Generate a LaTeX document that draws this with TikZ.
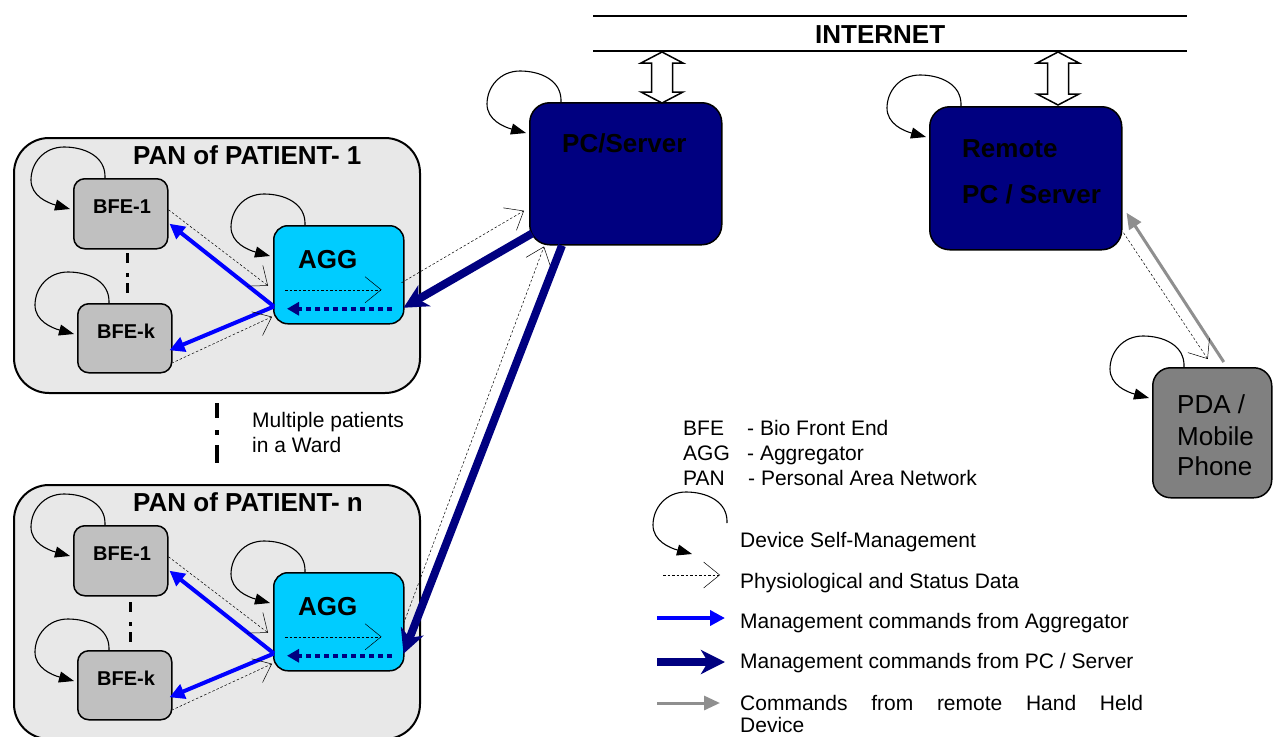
\documentclass[tikz,border=0pt]{standalone}
\usepackage{fontspec}
\setmainfont{Liberation Sans}
\usetikzlibrary{arrows.meta}

\definecolor{pangray}{HTML}{E8E8E8}
\definecolor{bfegray}{HTML}{C0C0C0}
\definecolor{aggcyan}{HTML}{00CCFF}
\definecolor{srvnavy}{HTML}{000080}
\definecolor{pdagray}{HTML}{808080}
\definecolor{cmdblue}{HTML}{0000FF}
\definecolor{cmdgray}{HTML}{8F8F8F}

% self-management loop, anchored at the north-west corner of a device
\newcommand\devloop[1]{%
  \draw[selfloop] ([shift={(32,0)}]#1)
    .. controls +(1,-22) and +(20,0) .. ([shift={(-9,-31)}]#1)
    .. controls +(-20,0) and +(0,-17) .. ([shift={(-42,2)}]#1)
    .. controls +(0,16) and +(-22,-6) .. ([shift={(-3,31)}]#1);}

\begin{document}
\begin{tikzpicture}[x=1pt,y=-1pt,
  panbox/.style={draw, line width=2pt, fill=pangray, rounded corners=35pt,
    anchor=north west, inner sep=0pt, minimum width=406pt},
  bfebox/.style={draw, line width=1.5pt, fill=bfegray, rounded corners=11pt,
    anchor=north west, inner sep=0pt, minimum width=94pt, minimum height=70pt},
  aggbox/.style={draw, line width=1.5pt, fill=aggcyan, rounded corners=14pt,
    anchor=north west, inner sep=0pt, minimum width=130pt, minimum height=98pt},
  srvbox/.style={draw, line width=1.5pt, fill=srvnavy, rounded corners=20pt,
    anchor=north west, inner sep=0pt, minimum width=192pt, minimum height=142pt},
  pdabox/.style={draw, line width=1.5pt, fill=pdagray, rounded corners=18pt,
    anchor=north west, inner sep=0pt, minimum width=119pt, minimum height=130pt},
  selfloop/.style={draw=black, line width=1.1pt, -{Triangle[length=15pt,width=11pt]}},
  dataflow/.style={draw=black, line width=0.5pt, dash pattern=on 2.5pt off 2pt,
    -{Straight Barb[length=16pt,width=26pt,line width=0.5pt]}},
  aggcmd/.style={draw=cmdblue, line width=4pt, -{Triangle[length=15pt,width=15pt]}},
  srvcmd/.style={draw=srvnavy, line width=8pt, -{Stealth[length=24pt,width=24pt,inset=7pt]}},
  srvcmddot/.style={draw=srvnavy, line width=4pt, dash pattern=on 5pt off 4pt,
    -{Triangle[length=12pt,width=13pt]}},
  pdacmd/.style={draw=cmdgray, line width=3pt, -{Triangle[length=16pt,width=14pt]}},
  sepmark/.style={draw=black, line width=3pt,
    dash pattern=on 10pt off 10pt on 4pt off 6pt on 10pt off 100pt},
  bidirarrow/.style={draw=black, line width=1.5pt, fill=white, line join=miter},
  txtB/.style={font=\fontsize{26}{31}\selectfont\bfseries, anchor=base west, inner sep=0pt},
  txtb/.style={font=\fontsize{20}{24}\selectfont\bfseries, anchor=base west, inner sep=0pt},
  txtR/.style={font=\fontsize{21}{25}\selectfont, anchor=base west, inner sep=0pt},
  txtP/.style={font=\fontsize{26}{31}\selectfont, anchor=base west, inner sep=0pt},
]
\useasboundingbox (0,0) rectangle (1273,736);

% ---------- patient area networks ----------
\node[panbox, minimum height=255pt] (pan1) at (13,137) {};
\node[panbox, minimum height=254pt] (pann) at (13,484) {};

\node[bfebox] (b11) at (73,178) {};
\node[bfebox, minimum height=69pt] (b1k) at (77,303) {};
\node[aggbox] (agg1) at (273,225) {};
\node[bfebox] (bn1) at (73,525) {};
\node[bfebox, minimum height=69pt] (bnk) at (77,650) {};
\node[aggbox] (aggn) at (273,572) {};

% ---------- servers and handheld ----------
\node[srvbox] (pc) at (529,102) {};
\node[srvbox, minimum height=143pt] (rem) at (929,106) {};
\node[pdabox] (pda) at (1152,367) {};

% ---------- internet backbone ----------
\node[inner sep=0pt, minimum width=594pt, minimum height=35pt, anchor=north west] (inet) at (593,16) {};
\draw[line width=2pt] (inet.north west) -- (inet.north east);
\draw[line width=2pt] (inet.south west) -- (inet.south east);
\node[txtB] (t-inet) at (815,43) {INTERNET};

\draw[bidirarrow] (662,52) -- (683,63) -- (672.5,63) -- (672.5,92) -- (683,92) -- (662,103)
  -- (641,92) -- (651.5,92) -- (651.5,63) -- (641,63) -- cycle;
\draw[bidirarrow] (1058,52) -- (1079,63) -- (1068.5,63) -- (1068.5,94) -- (1079,94) -- (1058,105)
  -- (1037,94) -- (1047.5,94) -- (1047.5,63) -- (1037,63) -- cycle;

% ---------- device self-management loops ----------
\devloop{b11.north west}
\devloop{b1k.north west}
\devloop{agg1.north west}
\devloop{bn1.north west}
\devloop{bnk.north west}
\devloop{aggn.north west}
\devloop{pc.north west}
\devloop{rem.north west}
\devloop{pda.north west}

% ---------- labels ----------
\node[txtB] (t-pan1) at (133,164) {PAN of PATIENT- 1};
\node[txtB] (t-pann) at (133,511) {PAN of PATIENT- n};
\node[txtb] (t-b11) at (93,213) {BFE-1};
\node[txtb] (t-b1k) at (97,338) {BFE-k};
\node[txtb] (t-bn1) at (93,560) {BFE-1};
\node[txtb] (t-bnk) at (97,685) {BFE-k};
\node[txtB] (t-agg1) at (298,268) {AGG};
\node[txtB] (t-aggn) at (298,615) {AGG};
\node[txtB] (t-pc) at (562,152) {PC/Server};
\node[txtB] (t-rem1) at (962,157) {Remote};
\node[txtB] (t-rem2) at (962,203) {PC / Server};
\node[txtP] (t-pda1) at (1177,413) {PDA /};
\node[txtP] (t-pda2) at (1177,445) {Mobile};
\node[txtP] (t-pda3) at (1177,475) {Phone};

% ---------- "more devices / more patients" marks ----------
\draw[sepmark] (127,253) -- (127,293);
\draw[sepmark] (130,602) -- (130,643);
\draw[sepmark, line width=4pt, dash pattern=on 15pt off 12pt on 5pt off 10pt on 18pt off 50pt]
  (217,403) -- (217,463);
\node[txtR] (t-multi1) at (252,427) {Multiple patients};
\node[txtR] (t-multi2) at (252,452) {in a Ward};

% ---------- flows inside PAN 1 ----------
\draw[aggcmd] ([shift={(1,-18)}]agg1.south west) -- ([shift={(1,10)}]b11.east);
\draw[aggcmd] ([shift={(1,-18)}]agg1.south west) -- ([shift={(-3,12)}]b1k.east);
\draw[dataflow] ([shift={(0,-4)}]b11.east) -- ([shift={(-5,11)}]agg1.west);
\draw[dataflow] ([shift={(-1,25)}]b1k.east) -- ([shift={(-1,42)}]agg1.west);
\draw[dataflow] ([shift={(12,15)}]agg1.west) -- ([shift={(-23,15)}]agg1.east);
\draw[srvcmddot] ([shift={(-13,34)}]agg1.east) -- ([shift={(14,34)}]agg1.west);

% ---------- flows inside PAN n ----------
\draw[aggcmd] ([shift={(1,-18)}]aggn.south west) -- ([shift={(1,10)}]bn1.east);
\draw[aggcmd] ([shift={(1,-18)}]aggn.south west) -- ([shift={(-3,12)}]bnk.east);
\draw[dataflow] ([shift={(0,-4)}]bn1.east) -- ([shift={(-5,11)}]aggn.west);
\draw[dataflow] ([shift={(-1,25)}]bnk.east) -- ([shift={(-1,42)}]aggn.west);
\draw[dataflow] ([shift={(12,15)}]aggn.west) -- ([shift={(-23,15)}]aggn.east);
\draw[srvcmddot] ([shift={(-13,34)}]aggn.east) -- ([shift={(14,34)}]aggn.west);

% ---------- aggregators <-> PC/Server ----------
\draw[dataflow] ([shift={(-3,8)}]agg1.east) -- ([shift={(-5,37)}]pc.west);
\draw[srvcmd] ([shift={(3,-12)}]pc.south west) -- ([shift={(-1,33)}]agg1.east);
\draw[dataflow] ([shift={(-1,2)}]aggn.east) -- ([shift={(15,1)}]pc.south west);
\draw[srvcmd] ([shift={(33,0)}]pc.south west) -- ([shift={(-1,32)}]aggn.east);

% ---------- remote server <-> handheld ----------
\draw[pdacmd] ([shift={(11.5,-5)}]pda.north) -- ([shift={(4,34.5)}]rem.east);
\draw[dataflow] ([shift={(1,54.5)}]rem.east) -- ([shift={(-4.5,-8)}]pda.north);

% ---------- legend ----------
\node[txtR] (k-bfe) at (683,435) {BFE};
\node[txtR] (k-bfe-d) at (747,435) {- Bio Front End};
\node[txtR] (k-agg) at (683,460) {AGG};
\node[txtR] (k-agg-d) at (747,460) {- Aggregator};
\node[txtR] (k-pan) at (683,485) {PAN};
\node[txtR] (k-pan-d) at (748,485) {- Personal Area Network};

\coordinate (k-loop) at (695,523);
\devloop{k-loop}
\node[txtR] (k-loop-t) at (740,547) {Device Self-Management};

\coordinate (k-d0) at (663,575);
\coordinate (k-d1) at (720,575);
\draw[dataflow] (k-d0) -- (k-d1);
\node[txtR] (k-d-t) at (740,588) {Physiological and Status Data};

\coordinate (k-a0) at (657,618);
\coordinate (k-a1) at (725,618);
\draw[aggcmd] (k-a0) -- (k-a1);
\node[txtR] (k-a-t) at (740,628) {Management commands from Aggregator};

\coordinate (k-s0) at (657,662);
\coordinate (k-s1) at (725,662);
\draw[srvcmd] (k-s0) -- (k-s1);
\node[txtR] (k-s-t) at (740,668) {Management commands from PC / Server};

\coordinate (k-h0) at (657,703);
\coordinate (k-h1) at (720,703);
\draw[pdacmd] (k-h0) -- (k-h1);
\node[txtR] (k-h-t1) at (740,710) {\makebox[403pt][s]{Commands from remote Hand Held}};
\node[txtR] (k-h-t2) at (740,732) {Device};
\end{tikzpicture}
\end{document}
